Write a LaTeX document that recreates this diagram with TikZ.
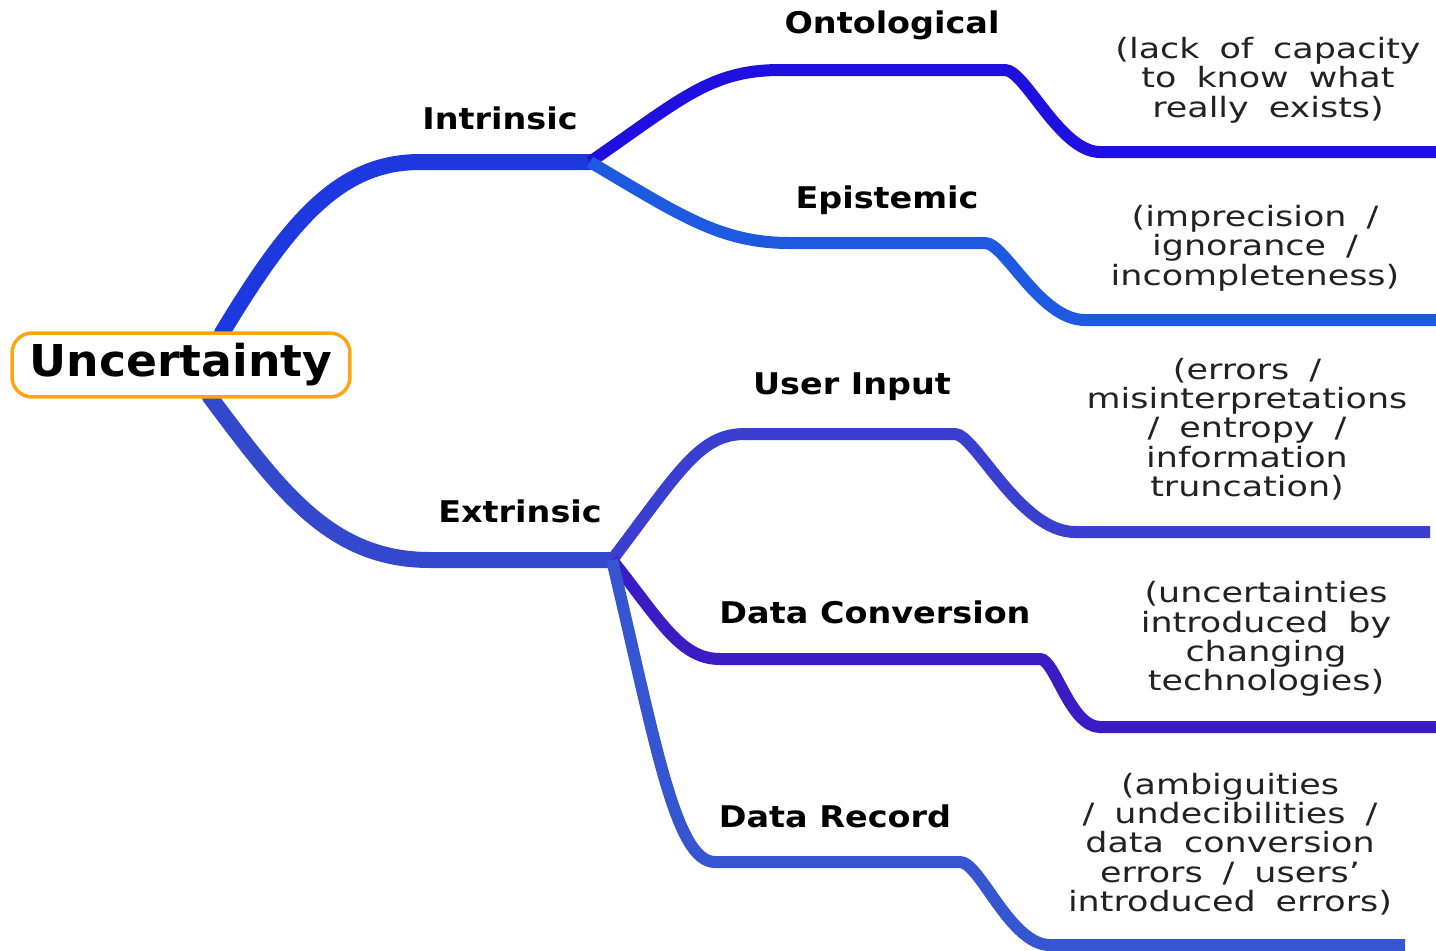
\documentclass[tikz,border=0pt]{standalone}
\usepackage{fontspec}
\setmainfont{DejaVu Sans}
\newfontfamily\labelfont[FakeStretch=1.12]{DejaVu Sans}
\newfontfamily\rootfont[FakeStretch=1.04]{DejaVu Sans}
\newfontfamily\descfont[FakeStretch=1.25, WordSpace=1.8]{DejaVu Sans}
\definecolor{rootorange}{HTML}{FFA510}
\definecolor{intrblue}{HTML}{1E38E0}
\definecolor{ontoblue}{HTML}{2010E0}
\definecolor{epistblue}{HTML}{1E5AE0}
\definecolor{extrblue}{HTML}{3348CC}
\definecolor{userblue}{HTML}{3A3FD0}
\definecolor{convblue}{HTML}{3A1CC4}
\definecolor{recblue}{HTML}{3556D0}
\definecolor{desctext}{HTML}{222222}
\begin{document}
\begin{tikzpicture}[x=0.02cm, y=-0.02cm,
  mainbranch/.style={line width=0.32cm, line cap=round},
  subbranch/.style={line width=0.24cm, line cap=butt},
  branchlabel/.style={font=\labelfont\bfseries\fontsize{17}{20}\selectfont},
  desc/.style={align=center, text=desctext, inner sep=0pt,
    font=\descfont\fontsize{15.9}{16.7}\selectfont}]
\useasboundingbox (0,0) rectangle (1436,950);
% junctions
\coordinate (roottop) at (222,333);
\coordinate (rootbot) at (210,397);
\coordinate (intr) at (590,162);
\coordinate (extr) at (612,560);
% main branches
\draw [mainbranch, intrblue] (roottop) .. controls (290,220) and (340,162) .. (420,162) -- (intr);
\draw [mainbranch, extrblue] (rootbot) .. controls (280,490) and (330,560) .. (430,560) -- (extr);
% intrinsic
\draw [subbranch, ontoblue] (intr) .. controls (680,100) and (710,70) .. (780,70) -- (1005,70)
  .. controls (1025,70) and (1060,152) .. (1100,152) -- (1436,152);
\draw [subbranch, epistblue] (intr) .. controls (680,215) and (720,243) .. (790,243) -- (985,243)
  .. controls (1005,243) and (1040,320) .. (1085,320) -- (1436,320);
% extrinsic
\draw [subbranch, userblue] (extr) .. controls (680,470) and (700,434) .. (745,434) -- (955,434)
  .. controls (975,434) and (1020,532) .. (1075,532) -- (1430,532);
\draw [subbranch, convblue] (extr) .. controls (660,620) and (680,659) .. (720,659) -- (1040,659)
  .. controls (1055,659) and (1070,727) .. (1100,727) -- (1436,727);
\draw [subbranch, recblue] (extr) .. controls (655,740) and (675,862) .. (715,862) -- (960,862)
  .. controls (980,862) and (1010,945) .. (1050,945) -- (1405,945);
% root
\node (root) [draw=rootorange, line width=0.07cm, fill=white, rounded corners=0.4cm,
  minimum width=6.76cm, minimum height=1.28cm, inner sep=0pt,
  font=\rootfont\bfseries\fontsize{25}{30}\selectfont] at (181,365) {Uncertainty};
% labels
\node (intrinsic) [branchlabel] at (500,118) {Intrinsic};
\node (extrinsic) [branchlabel] at (520,511) {Extrinsic};
\node (ontological) [branchlabel] at (892,25) {Ontological};
\node (epistemic) [branchlabel] at (887,200) {Epistemic};
\node (userinput) [branchlabel] at (852,387) {User Input};
\node (dataconv) [branchlabel] at (875,612) {Data Conversion};
\node (datarec) [branchlabel] at (835,816) {Data Record};
% descriptions
\node (ontodesc) [desc] at (1268,80) {(lack of capacity\\to know what\\really exists)};
\node (epistdesc) [desc] at (1255,248) {(imprecision /\\ignorance /\\incompleteness)};
\node (userdesc) [desc] at (1247,429) {(errors /\\misinterpretations\\/ entropy /\\information\\truncation)};
\node (convdesc) [desc] at (1266,639) {(uncertainties\\introduced by\\changing\\technologies)};
\node (recdesc) [desc] at (1230,844) {(ambiguities\\/ undecibilities /\\data conversion\\errors / users’\\introduced errors)};
\end{tikzpicture}
\end{document}
